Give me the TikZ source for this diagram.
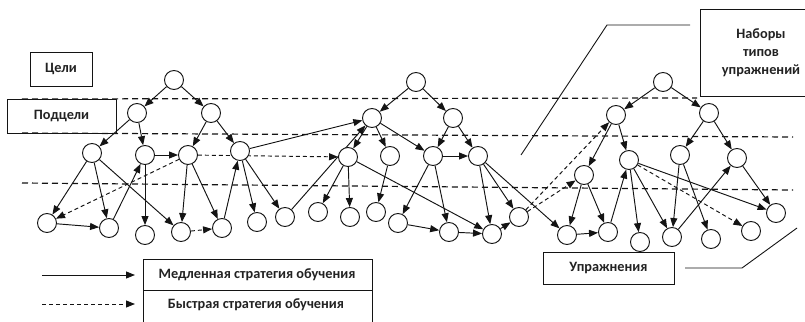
\documentclass[tikz,border=0pt]{standalone}
\usepackage{fontspec}
\setmainfont{Carlito}
\usetikzlibrary{arrows.meta}
\pgfdeclarelayer{bg}
\pgfsetlayers{bg,main}
\definecolor{ink}{HTML}{141414}
\definecolor{txt}{HTML}{222222}

\begin{document}
\begin{tikzpicture}[x=1pt,y=-1pt,
  vert/.style={circle, draw=ink, fill=white, line width=0.95pt, minimum size=19pt, inner sep=0pt},
  slow/.style={draw=ink, line width=0.95pt, -{Triangle[length=9pt,width=7pt]}},
  fast/.style={slow, dash pattern=on 4pt off 3pt},
  level/.style={draw=ink, line width=1.2pt, dash pattern=on 6pt off 4pt},
  tag/.style={draw=ink, line width=0.9pt, text=txt, inner sep=0pt,
    font=\bfseries\fontsize{14.3}{18}\selectfont},
  celltext/.style={text=txt, inner sep=0pt, font=\bfseries\fontsize{14.3}{18}\selectfont},
  callout/.style={draw=ink, line width=0.9pt}]

\useasboundingbox (0,0) rectangle (805,321);
\clip (0,0) rectangle (805,321);

% level captions
\node[tag, minimum width=62pt, minimum height=34pt] (goals) at (61,69) {Цели};
\node[tag, minimum width=109pt, minimum height=34pt] (subgoals) at (61.5,116) {Подцели};
\node[tag, minimum width=136pt, minimum height=87pt] (sets) at (768,52.5) {};
\node[celltext, align=center] (setstxt) at (761,52.5) {Наборы\\типов\\упражнений};
\node[tag, minimum width=131pt, minimum height=32pt] (drills) at (608.5,268) {Упражнения};

% callout brackets
\coordinate (s1) at (690,25);
\coordinate (s2) at (607,25);
\coordinate (s3) at (521,155);
\draw[callout] (s1) -- (s2) -- (s3);
\coordinate (u1) at (685,268);
\coordinate (u2) at (742,268);
\coordinate (u3) at (797,228);
\draw[callout] (u1) -- (u2) -- (u3);

% first tree
\node[vert] (a0) at (174,80) {};
\node[vert] (a1) at (137,113) {};
\node[vert] (a2) at (211,113) {};
\node[vert] (b1) at (92,153) {};
\node[vert] (b2) at (145,155) {};
\node[vert] (b3) at (188,155) {};
\node[vert] (b4) at (240,151) {};
\node[vert] (c1) at (47,223) {};
\node[vert] (c2) at (109,228) {};
\node[vert] (c3) at (145,235) {};
\node[vert] (c4) at (181,232) {};
\node[vert] (c5) at (222,228) {};
\node[vert] (c6) at (257,222) {};
\node[vert] (c7) at (285,217) {};

% second tree
\node[vert] (t2) at (416,82) {};
\node[vert] (t2l) at (372,118) {};
\node[vert] (t2r) at (453,118) {};
\node[vert] (d1) at (348,157) {};
\node[vert] (d2) at (390,156) {};
\node[vert] (d3) at (433,156) {};
\node[vert] (d4) at (478,156) {};
\node[vert] (c8) at (318,212) {};
\node[vert] (c9) at (350,217) {};
\node[vert] (c10) at (376,212) {};
\node[vert] (c11) at (398,223) {};
\node[vert] (c12) at (449,232) {};
\node[vert] (c13) at (492,234) {};
\node[vert] (c14) at (519,217) {};
\node[vert] (c15) at (567,235) {};

% third tree
\node[vert] (t3) at (663,82) {};
\node[vert] (t3l) at (616,115) {};
\node[vert] (t3r) at (709,113) {};
\node[vert] (e1) at (584,175) {};
\node[vert] (e2) at (629,160) {};
\node[vert] (e3) at (680,155) {};
\node[vert] (e4) at (737,158) {};
\node[vert] (c16) at (608,232) {};
\node[vert] (c17) at (640,242) {};
\node[vert] (c18) at (672,237) {};
\node[vert] (c19) at (711,239) {};
\node[vert] (c20) at (751,231) {};
\node[vert] (c21) at (776,213) {};

% legend
\node[tag, minimum width=229pt, minimum height=31pt] (slowcell) at (257.5,274.5) {};
\node[tag, minimum width=229pt, minimum height=40pt, anchor=north] (fastcell) at (slowcell.south) {};
\node[celltext] (slowtxt) at (257,275) {Медленная стратегия обучения};
\node[celltext] (fasttxt) at (256,305) {Быстрая стратегия обучения};
\coordinate (ls0) at (42,275);
\coordinate (ls1) at (135,275);
\coordinate (lf0) at (42,304);
\coordinate (lf1) at (135,304);
\draw[slow] (ls0) -- (ls1);
\draw[fast] (lf0) -- (lf1);

\begin{pgfonlayer}{bg}
  % level separators
  \coordinate (l1a) at (22,99);   \coordinate (l1b) at (697,98);
  \coordinate (l2a) at (22,133);  \coordinate (l2b) at (793,137);
  \coordinate (l3a) at (22,183);  \coordinate (l3b) at (793,190);
  \draw[level] (l1a) -- (l1b);
  \draw[level] (l2a) -- (l2b);
  \draw[level] (l3a) -- (l3b);

  % slow strategy
  \foreach \u/\v in {a0/a1, a0/a2, a1/b1, a1/b2, a2/b3, a2/b4, b2/b3, b4/t2l,
      b1/c1, b1/c2, b1/c4, c1/c2, c2/b2, b2/c3, b3/c4, b3/c5, c5/b4, b4/c6, b4/c7, c7/t2l,
      t2/t2l, t2/t2r, t2l/d1, t2l/d2, t2l/d3, d1/c8, d1/c9, d1/c13, d2/c10,
      t2r/d3, t2r/d4, d3/d4, d3/c11, d3/c12, c11/c12, c12/c13, c13/c14,
      d4/c13, d4/c14, d4/c15,
      t3/t3l, t3/t3r, t3l/e1, t3l/e2, t3r/e3, t3r/e4, e1/c15, e1/c16, c15/c16,
      c16/e2, e2/c17, e2/c18, e2/c21, e3/c18, e3/c19, c18/e4, e4/c21}
    \draw[slow] (\u) -- (\v);

  % fast strategy
  \foreach \u/\v in {b3/c1, c4/c5, b3/d1, c14/e1, c14/t3l, e2/c20}
    \draw[fast] (\u) -- (\v);
\end{pgfonlayer}
\end{tikzpicture}
\end{document}
